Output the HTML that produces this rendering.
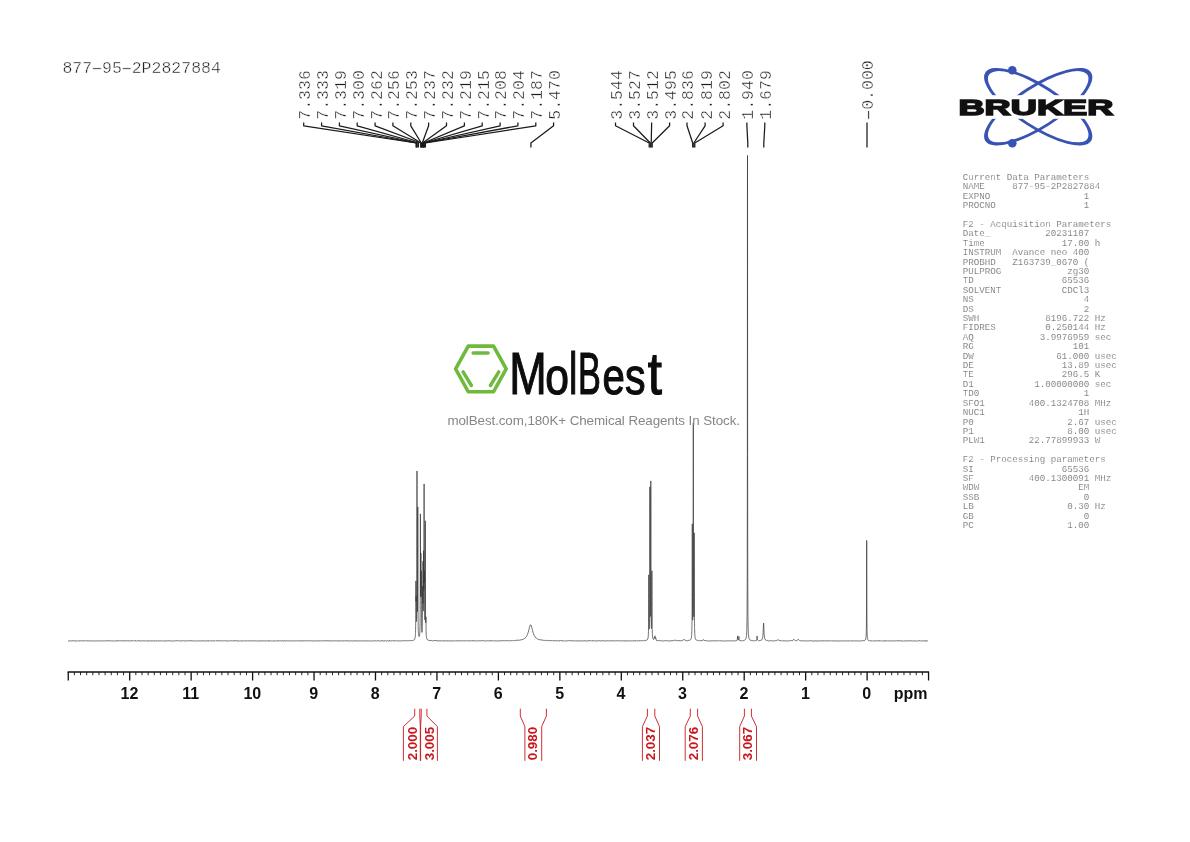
<!DOCTYPE html>
<html lang="en"><head><meta charset="utf-8"><title>877-95-2P2827884 1H NMR</title>
<style>
html,body{margin:0;padding:0;background:#fff}
body{width:1190px;height:842px;overflow:hidden}
svg{display:block}
.mono{font-family:"Liberation Mono",monospace}
.sans{font-family:"Liberation Sans",sans-serif}
.pk{font-family:"Liberation Mono",monospace;font-size:16.5px;fill:#1c1c1c;stroke:#fff;stroke-width:.42px}
.par{font-family:"Liberation Mono",monospace;font-size:9.17px;fill:#555;stroke:#fff;stroke-width:.22px;white-space:pre}
.ax{font-family:"Liberation Sans",sans-serif;font-weight:bold;font-size:16px;fill:#111;text-anchor:middle}
.int{font-family:"Liberation Sans",sans-serif;font-weight:bold;font-size:13.4px;fill:#c8171e}
</style></head><body>
<svg width="1190" height="842" viewBox="0 0 1190 842">
<rect width="1190" height="842" fill="#fff"/>
<text class="pk" x="62.4" y="72.7">877<tspan dx="-4.5" textLength="18.9" lengthAdjust="spacingAndGlyphs">-</tspan><tspan dx="-4.5">95</tspan><tspan dx="-4.5" textLength="18.9" lengthAdjust="spacingAndGlyphs">-</tspan><tspan dx="-4.5">2P2827884</tspan></text>
<g fill="none" stroke="#1a1a1a" stroke-width="1.25" stroke-linejoin="round" stroke-linecap="butt">
<path d="M303.7 122.4V125.8L416.2 143V147.4"/>
<path d="M321.6 122.4V125.8L416.4 143V147.4"/>
<path d="M339.4 122.4V125.8L417.2 143V147.4"/>
<path d="M357.2 122.4V125.8L418.4 143V147.4"/>
<path d="M375.1 122.4V125.8L420.8 143V147.4"/>
<path d="M392.9 122.4V125.8L421.1 143V147.4"/>
<path d="M410.8 122.4V125.8L421.3 143V147.4"/>
<path d="M428.6 122.4V125.8L422.3 143V147.4"/>
<path d="M446.5 122.4V125.8L422.6 143V147.4"/>
<path d="M464.4 122.4V125.8L423.4 143V147.4"/>
<path d="M482.2 122.4V125.8L423.6 143V147.4"/>
<path d="M500.1 122.4V125.8L424.1 143V147.4"/>
<path d="M517.9 122.4V125.8L424.3 143V147.4"/>
<path d="M535.8 122.4V125.8L425.4 143V147.4"/>
<path d="M553.6 122.4V125.8L530.9 143V147.4"/>
<path d="M615.5 122.4V125.8L649.2 143V147.4"/>
<path d="M633.5 122.4V125.8L650.3 143V147.4"/>
<path d="M651.6 122.4V125.8L651.2 143V147.4"/>
<path d="M669.6 122.4V125.8L652.2 143V147.4"/>
<path d="M687.0 122.4V125.8L692.7 143V147.4"/>
<path d="M705.1 122.4V125.8L693.8 143V147.4"/>
<path d="M723.1 122.4V125.8L694.8 143V147.4"/>
<path d="M746.9 122.4V125.8L747.8 143V147.4"/>
<path d="M764.8 122.4V125.8L763.8 143V147.4"/>
<path d="M867.0 122.4V125.8L867.0 143V147.4"/>
</g>
<g class="pk">
<text transform="translate(310.1 119.7) rotate(-90)">7.336</text>
<text transform="translate(327.9 119.7) rotate(-90)">7.333</text>
<text transform="translate(345.8 119.7) rotate(-90)">7.319</text>
<text transform="translate(363.6 119.7) rotate(-90)">7.300</text>
<text transform="translate(381.5 119.7) rotate(-90)">7.262</text>
<text transform="translate(399.3 119.7) rotate(-90)">7.256</text>
<text transform="translate(417.2 119.7) rotate(-90)">7.253</text>
<text transform="translate(435.0 119.7) rotate(-90)">7.237</text>
<text transform="translate(452.9 119.7) rotate(-90)">7.232</text>
<text transform="translate(470.8 119.7) rotate(-90)">7.219</text>
<text transform="translate(488.6 119.7) rotate(-90)">7.215</text>
<text transform="translate(506.4 119.7) rotate(-90)">7.208</text>
<text transform="translate(524.3 119.7) rotate(-90)">7.204</text>
<text transform="translate(542.1 119.7) rotate(-90)">7.187</text>
<text transform="translate(560.0 119.7) rotate(-90)">5.470</text>
<text transform="translate(621.9 119.7) rotate(-90)">3.544</text>
<text transform="translate(639.9 119.7) rotate(-90)">3.527</text>
<text transform="translate(658.0 119.7) rotate(-90)">3.512</text>
<text transform="translate(676.0 119.7) rotate(-90)">3.495</text>
<text transform="translate(693.4 119.7) rotate(-90)">2.836</text>
<text transform="translate(711.5 119.7) rotate(-90)">2.819</text>
<text transform="translate(729.5 119.7) rotate(-90)">2.802</text>
<text transform="translate(753.3 119.7) rotate(-90)">1.940</text>
<text transform="translate(771.2 119.7) rotate(-90)">1.679</text>
<text transform="translate(873.4 119.7) rotate(-90)"><tspan dx="-4.5" textLength="18.9" lengthAdjust="spacingAndGlyphs">-</tspan><tspan dx="-4.5">0.000</tspan></text>
</g>
<path d="M68 640.93 68.75 640.97 69 640.9 69.5 641.04 69.75 640.8 70.25 640.71 70.5 640.89 71 640.96 71.25 641.07 71.5 640.79 71.75 641.02 72 641.03 72.5 640.74 73 641.01 73.25 640.98 73.5 640.83 74 640.98 74.75 640.68 75 641.04 75.5 640.99 75.75 641.17 76 641 76.25 641.01 76.5 640.78 77 641.08 77.25 640.83 77.75 641.09 78 640.96 78.5 641 78.75 640.9 79 641.15 79.5 640.79 80.5 640.74 80.75 641.02 81 640.81 81.25 641.1 81.5 640.97 81.75 641.11 82 640.78 82.25 640.75 82.5 640.92 82.75 640.7 83 640.97 83.5 640.88 83.75 641.02 84.25 640.69 84.5 641.01 84.75 640.8 85 640.92 85.25 640.7 85.5 640.85 86.25 640.87 86.5 641.05 86.75 640.75 87 641.05 87.25 640.87 87.5 640.83 87.75 640.99 88.25 640.77 88.75 641 89 641.22 89.25 641.01 90 641 90.25 640.86 90.5 640.96 91 640.82 91.25 640.99 91.5 640.93 91.75 640.66 92.25 641.04 93 640.76 93.5 640.96 93.75 640.98 94 640.83 94.5 640.96 95 640.94 95.25 640.82 95.5 640.98 96 640.81 96.25 640.85 96.5 640.99 96.75 640.75 97 640.97 97.25 640.85 97.75 641.09 98 640.87 98.75 640.87 99.25 640.98 99.5 640.92 99.75 640.69 100.25 640.96 100.5 640.84 100.75 640.95 101 640.95 101.25 640.8 101.75 641.08 102.25 640.89 102.5 640.89 102.75 640.76 103 640.98 103.25 640.82 103.75 640.92 104 640.81 104.25 640.84 104.5 640.99 104.75 640.78 105 641.03 105.25 640.89 105.75 640.85 106 640.98 106.5 640.91 106.75 640.79 107 640.99 107.25 640.89 107.75 641.04 108 640.6 108.25 640.91 108.5 641.06 108.75 640.74 109 641.02 109.25 640.86 109.5 640.8 109.75 640.97 110.5 640.91 110.75 641.08 111.25 640.91 111.5 640.78 111.75 640.83 112 640.71 112.5 640.96 112.75 640.91 113 641.12 113.25 641 113.5 641.01 113.75 640.87 114 640.83 114.25 640.96 114.5 640.96 114.75 641.07 115 640.91 115.5 640.85 115.75 640.99 116 640.68 116.75 640.96 118.25 640.75 118.5 640.77 118.75 640.91 119 640.86 119.5 640.96 119.75 640.69 120 640.95 120.25 640.68 120.5 640.94 121 640.78 121.25 640.9 121.5 640.86 122 640.95 122.5 640.97 122.75 640.72 123 640.92 123.25 640.71 123.5 641.19 123.75 640.9 124 640.84 124.25 640.93 124.5 640.78 125 640.93 125.25 640.85 125.5 640.59 125.75 640.87 126.25 640.95 126.5 640.88 126.75 641.04 127 640.92 127.25 640.63 127.5 640.78 128 640.78 128.25 640.69 128.5 640.83 128.75 640.67 129.25 640.88 129.5 640.71 129.75 641.16 130 640.96 130.25 640.87 130.5 641 130.75 640.92 131.25 640.97 131.5 640.6 131.75 640.83 132 640.9 132.25 640.75 132.5 640.93 132.75 640.8 133 640.86 133.25 640.72 133.5 641.06 133.75 640.81 134.25 641.03 134.5 640.78 134.75 640.99 135 640.72 135.25 640.84 135.75 640.89 136 640.8 136.25 641.1 136.5 640.89 136.75 640.97 137 640.87 137.25 640.9 137.5 640.83 137.75 640.99 138 640.7 138.25 640.64 138.5 640.92 139 640.87 139.5 640.69 139.75 641.03 140 640.97 140.75 641.08 141 640.86 141.25 641.03 141.5 640.73 141.75 640.8 142 641.01 142.5 640.97 142.75 640.74 143 640.99 143.25 641.06 143.5 640.9 143.75 640.86 144 640.97 144.25 640.72 144.5 640.87 144.75 640.85 145 640.99 145.25 640.9 145.5 640.92 145.75 641.15 146 640.87 146.25 641.1 146.5 640.9 146.75 641.06 147 640.68 147.25 640.86 147.75 640.8 148 641.04 148.25 641.15 148.75 640.8 149 640.89 149.5 640.8 149.75 641.06 150.25 640.68 150.5 640.96 150.75 641.12 151 640.92 151.25 640.95 151.5 640.85 151.75 641 152 640.89 152.25 641.14 152.5 640.8 152.75 640.72 153 640.76 153.25 641.07 153.5 640.86 153.75 641.23 154 640.87 154.5 641.01 154.75 640.86 155 640.88 155.25 640.8 155.5 640.88 155.75 640.87 156 641.11 156.75 640.87 157 640.9 157.25 640.73 157.5 640.99 158 640.87 158.25 640.92 158.5 640.84 158.75 640.96 159 640.74 159.25 640.93 159.5 640.78 159.75 640.9 160 640.73 160.25 641.05 160.5 640.84 160.75 640.95 161.25 640.77 161.5 641.02 162 641.01 162.25 640.87 162.5 641.11 162.75 640.89 163 641.04 163.75 640.86 164 640.97 164.75 640.93 165 641.19 165.25 640.95 166 640.67 166.75 641 167.5 640.76 167.75 641 168.5 640.69 169 640.96 169.75 640.97 170 640.81 170.75 640.77 171 640.95 171.25 640.86 171.5 640.94 172 640.76 172.5 641.1 172.75 640.93 173.25 641.06 173.5 640.99 173.75 640.79 174 640.71 174.25 640.95 174.5 640.79 174.75 640.77 175 641.03 175.25 640.9 175.75 640.88 176 641.07 176.5 640.78 177 640.7 177.25 640.94 177.5 640.69 178 641.05 178.25 640.81 178.5 640.94 178.75 640.84 179 640.91 179.25 640.77 179.75 640.93 180 640.79 180.5 640.94 180.75 640.76 181 640.94 181.5 640.96 181.75 641.06 182 640.96 182.25 640.69 182.5 641 182.75 640.9 183 641.02 183.25 640.97 183.5 640.73 184 640.97 184.25 640.9 184.75 640.98 185.25 641 185.5 640.86 186 640.84 186.5 641.05 186.75 640.91 187 641 187.25 640.8 187.75 640.82 188.25 641.1 188.5 640.79 188.75 640.76 189 641.06 189.5 640.77 189.75 641.02 190 640.7 190.25 640.94 190.5 641.02 190.75 640.75 191.25 640.97 191.5 640.8 191.75 641.11 192 640.7 192.25 640.99 192.5 640.87 192.75 640.94 193.25 640.8 193.5 640.99 193.75 640.81 194.25 640.97 194.5 640.92 194.75 641.01 195 640.99 195.25 640.79 195.5 640.92 195.75 640.77 196.5 641.11 197 640.87 197.5 640.99 197.75 640.79 198 641.09 198.5 640.88 198.75 640.66 199.25 641.01 199.5 640.83 200 640.8 200.25 640.94 200.5 640.99 201.5 640.67 201.75 640.98 203 640.85 203.25 640.87 203.5 640.75 204 641.01 204.25 641.07 204.75 641.01 205 641.11 205.25 640.83 206.25 641.07 206.5 641 206.75 640.7 207 641.14 207.25 640.88 207.5 640.82 208 640.93 208.25 640.81 208.5 641.02 209 640.74 209.25 641.01 209.75 640.88 210.25 640.75 211 641.02 211.25 640.87 211.5 640.85 211.75 641.02 212.5 640.78 212.75 641.01 213 640.84 213.25 641.03 213.75 640.91 214.25 640.53 214.5 640.87 215 640.79 215.25 641.05 215.5 640.81 215.75 641.03 216 640.72 216.5 640.84 216.75 640.99 217 640.71 217.25 640.87 217.75 640.83 218 641.09 218.25 640.85 218.5 640.79 219.25 641 219.5 640.83 220.25 640.96 220.5 640.8 220.75 640.76 221 640.86 221.75 640.72 222 640.87 222.5 640.94 223.25 640.8 223.5 640.95 223.75 640.88 224 641.01 224.25 640.76 224.5 640.94 224.75 640.86 225 640.98 225.5 640.97 225.75 640.71 226.25 640.92 226.5 641 227 640.84 227.25 640.71 227.5 641.06 228 640.92 228.5 641.08 228.75 640.9 229 640.82 229.25 641.07 229.5 640.87 230 640.79 230.25 640.94 230.5 640.64 231 640.99 231.25 640.79 231.5 641.02 231.75 640.8 232 641.04 232.25 640.81 232.5 640.96 232.75 640.77 233.5 640.89 233.75 640.78 234 641.1 234.25 640.85 235 640.81 235.25 640.49 235.5 640.89 235.75 640.81 236 640.88 236.25 640.73 236.5 641.12 236.75 640.71 237.25 641.15 238 640.88 238.25 640.9 238.5 640.81 239 640.9 239.25 641.13 239.5 640.84 239.75 640.79 240.25 641.1 240.5 641.04 240.75 640.71 241 640.96 241.5 640.99 241.75 640.82 242 640.96 242.5 641.06 243 640.79 243.25 640.91 243.5 640.8 244 640.88 244.5 640.89 244.75 640.79 245.25 640.96 245.5 640.88 246.5 640.85 246.75 641.06 247 640.86 247.25 640.75 247.5 641.05 247.75 640.72 248.25 640.92 248.5 641.1 248.75 640.78 249 641 249.5 640.84 249.75 641.01 250.25 641.02 250.75 640.83 251.5 640.94 251.75 640.88 252 640.97 252.25 640.68 252.75 641.11 253 641.02 253.25 640.72 253.5 641.05 254 640.85 254.25 641.02 254.5 640.78 254.75 640.71 255 640.99 255.25 640.77 255.5 641 255.75 641.01 256 640.87 256.5 640.96 256.75 640.81 257 641.06 257.5 641.02 257.75 640.81 258.25 640.82 258.5 641.04 258.75 640.88 259 640.85 259.25 641.08 259.75 640.83 261.25 640.91 261.5 640.99 262 640.94 262.25 640.64 262.5 640.87 263.5 640.93 263.75 640.84 264 640.9 264.25 640.81 264.5 640.97 265 640.8 265.25 641.02 265.5 640.88 266.25 640.95 266.5 641.1 266.75 640.77 267 641 267.25 641.03 267.5 640.83 267.75 641.1 268 640.79 268.75 640.92 269.25 641.11 269.5 640.74 269.75 640.95 270 640.95 270.25 640.72 270.5 640.97 271.25 640.91 271.5 641.01 271.75 640.96 272 640.76 272.25 640.81 272.5 641.22 272.75 641.11 273 640.86 273.5 640.94 273.75 640.78 274 641.09 274.25 640.77 274.5 640.88 275.25 640.8 275.75 640.96 276 640.81 276.5 641.04 276.75 640.75 277.25 640.74 277.5 640.89 277.75 640.86 278.25 641 278.5 640.89 278.75 640.88 279 640.97 279.25 640.7 279.5 641.07 280 640.97 280.25 640.76 280.5 640.93 281.5 641.04 281.75 640.79 282.25 640.79 282.5 640.97 282.75 640.62 283 641 283.25 641.12 283.5 640.93 284 640.81 284.25 641.01 284.75 640.71 285 640.99 285.25 640.98 285.5 641.08 285.75 640.87 286.75 640.74 287 640.88 287.25 640.79 287.5 641 288 640.87 288.25 640.99 288.75 640.75 289.25 640.98 289.5 640.98 289.75 640.75 290 640.98 290.25 640.89 290.75 640.89 291 640.78 291.5 641.05 291.75 640.74 292 640.87 292.25 640.82 292.5 640.9 293.25 640.75 293.5 640.93 294.5 640.83 295 641.15 295.25 640.85 295.75 640.83 296 640.71 296.5 640.94 296.75 640.79 297 640.91 297.25 640.76 297.5 640.87 298.25 640.89 298.5 641.06 298.75 640.89 299 641.15 299.25 640.84 299.75 640.67 300.25 640.98 300.5 641.07 300.75 640.68 301 641.05 301.25 640.8 301.5 641.15 301.75 640.9 302 640.82 303 641 303.25 640.79 303.75 640.91 304 640.87 304.25 641 304.5 640.78 304.75 640.76 305 640.98 305.5 640.78 305.75 640.97 306 640.67 306.25 640.73 306.5 640.93 307 640.71 307.25 641.03 307.5 640.83 308 640.92 308.25 640.82 308.75 641.05 309 641.05 309.5 640.83 310.25 640.9 310.5 640.75 311 640.98 311.25 640.93 311.5 640.76 311.75 640.96 312.25 640.9 312.5 641.01 312.75 640.8 313 641.14 313.25 640.74 313.5 640.94 313.75 641.03 314 640.86 314.25 641.08 314.5 640.84 314.75 640.81 315 640.96 315.25 640.94 315.5 640.79 315.75 640.97 316.25 640.86 316.5 640.72 316.75 640.95 317.25 640.77 317.5 641.18 317.75 640.93 318 641.11 318.25 641.1 318.5 640.68 318.75 640.87 319 640.73 319.25 640.92 319.5 640.84 320 640.96 320.5 640.88 320.75 640.73 321 640.92 321.25 640.85 321.5 640.92 321.75 640.88 322 641.04 322.25 640.78 322.5 640.95 323 640.92 323.25 640.79 324 640.88 324.75 640.84 325.25 640.72 325.5 640.83 325.75 641.04 326 640.7 326.25 640.66 326.5 640.94 326.75 640.94 327 641.12 327.25 640.81 327.5 641.01 327.75 640.69 328 641.17 328.25 640.89 328.5 640.82 329 640.98 329.25 640.87 329.5 640.95 330 640.9 330.5 640.92 330.75 640.81 331 640.94 331.25 640.88 331.5 640.98 331.75 640.79 332 641.04 332.25 640.79 332.5 641.23 332.75 640.99 333 641.07 333.25 640.78 333.75 641.04 334 640.96 334.25 640.75 334.5 640.9 334.75 640.83 335 641.06 335.25 641.06 335.75 640.64 336 640.96 336.25 640.83 336.5 641 336.75 640.76 337 640.95 337.25 640.94 337.5 641.11 338.25 640.75 338.5 641.03 338.75 640.79 339 640.94 339.5 641 339.75 641.08 340 641.03 340.25 640.72 340.5 641.03 341 640.78 341.25 641.13 341.5 640.85 341.75 640.96 342.25 640.8 342.5 640.92 342.75 640.92 343 640.82 343.25 640.83 343.5 640.98 343.75 640.92 344 641.05 344.25 640.76 344.5 641.03 345 640.71 345.75 640.98 346 640.97 346.25 640.8 346.75 640.9 347 640.61 347.25 640.99 348.25 640.86 348.5 640.93 348.75 640.82 349.25 640.93 349.5 641.17 349.75 640.81 350 641 350.5 640.91 350.75 641.03 351.25 640.89 351.5 640.94 351.75 640.87 352 641 352.25 640.93 352.5 641.02 353 640.87 353.5 641.06 354.25 640.78 355 641.03 355.25 640.68 355.5 641.01 355.75 641.03 356 640.92 356.25 641.1 356.5 640.78 356.75 640.88 357 640.85 357.25 641.01 357.75 640.81 358 640.8 358.25 640.59 358.5 640.78 358.75 641.11 359 640.89 359.25 640.94 359.5 640.78 359.75 640.91 360 640.84 360.25 640.93 360.75 640.74 361.25 641.12 361.5 641.01 361.75 640.72 362.25 640.93 362.5 641 362.75 640.78 363.5 640.96 364 640.93 364.5 640.76 364.75 641.11 365.25 640.91 365.5 640.89 365.75 641.07 366.25 640.94 367 640.9 367.25 640.8 368 640.86 368.25 640.97 368.5 640.95 368.75 640.82 369 640.88 369.25 640.81 369.75 640.89 370 640.85 370.25 641.06 370.5 640.91 370.75 640.96 371 640.8 371.25 640.97 371.5 640.87 371.75 640.94 372.25 640.81 372.5 640.92 373.25 640.81 373.5 640.93 374 640.94 374.25 641 374.75 640.85 375 640.98 375.25 640.72 375.5 640.98 375.75 640.81 376 640.85 376.25 641.08 376.5 640.9 376.75 641.07 377.5 640.69 377.75 640.81 378 641.06 378.5 640.73 378.75 640.87 379 640.7 379.25 640.97 379.5 640.95 379.75 641.04 380.25 640.75 380.5 640.99 380.75 640.8 381.25 640.8 381.5 640.92 381.75 640.89 382 640.66 382.25 641.03 382.5 640.81 382.75 640.72 383 640.84 383.25 640.71 383.5 641.22 383.75 640.92 384 641.02 384.75 640.84 385 640.98 385.25 640.79 385.5 641.06 385.75 640.78 386.25 641.08 386.75 641.09 387.5 640.74 387.75 640.8 388 641.04 388.25 641.14 388.5 640.92 388.75 641.05 389 640.91 389.25 640.96 389.5 640.6 389.75 641.08 390.25 640.68 390.5 640.93 390.75 640.97 391 640.7 391.25 641.12 391.75 641.02 392 640.84 392.25 640.8 392.5 640.9 392.75 640.64 393 640.91 393.5 640.92 393.75 640.75 394.25 640.92 394.5 640.69 395 640.76 395.25 641.02 396 640.9 396.5 640.89 396.75 640.8 397 640.98 397.25 640.84 397.75 640.92 398.25 640.78 398.75 640.95 399 640.82 399.5 640.81 399.75 640.88 400 640.74 400.25 640.81 400.5 640.97 401 641 401.25 640.8 401.5 640.92 402 640.85 402.5 640.59 402.75 640.84 403 640.61 403.25 640.77 403.5 640.69 404 640.96 404.25 640.76 404.5 640.67 404.75 640.98 405 640.81 405.5 640.74 405.75 640.92 406 640.86 406.5 640.59 406.75 640.77 407 640.67 407.25 640.75 407.5 640.72 407.75 640.8 408.25 640.81 408.75 640.61 409 640.7 409.25 640.64 409.5 640.77 409.75 640.61 410 641.03 410.5 640.69 410.75 640.84 411 640.55 411.5 640.67 411.75 640.53 412 640.68 412.5 640.48 412.75 640.56 413 640.21 413.25 640.33 413.5 640.05 413.8 640.03 414.1 639.85 414.3 639.74 414.76 639.01 415 638.24 415.16 637.37 415.3 636.25 415.38 635.34 415.44 634.38 415.48 633.54 415.52 632.46 415.56 631.04 415.58 630.18 415.6 629.19 415.62 628.05 415.64 626.71 415.66 625.15 415.68 623.3 415.7 621.12 415.72 618.52 415.74 615.43 415.75 613.68 415.76 611.77 415.78 607.48 415.8 602.57 415.82 597.17 415.84 591.61 415.86 586.52 415.88 582.7 415.9 580.88 415.92 581.38 415.94 583.84 415.96 587.51 415.98 591.52 416 595.23 416.02 598.24 416.04 600.37 416.06 601.56 416.08 601.84 416.1 601.27 416.12 600.03 416.16 596.8 416.18 595.77 416.2 595.82 416.22 597.15 416.24 599.61 416.25 601.13 416.28 606.13 416.3 609.35 416.32 612.2 416.34 614.62 416.36 616.6 416.38 618.18 416.4 619.4 416.42 620.31 416.44 620.95 416.46 621.35 416.48 621.54 416.5 621.53 416.52 621.31 416.54 620.92 416.56 620.33 416.58 619.55 416.6 618.56 416.62 617.33 416.64 615.84 416.66 614.05 416.68 611.92 416.7 609.37 416.72 606.34 416.74 602.73 416.75 600.66 416.76 598.4 416.78 593.21 416.8 586.98 416.82 579.48 416.84 570.47 416.86 559.72 416.88 547.05 416.9 532.49 416.92 516.47 416.94 500.11 416.96 485.37 416.98 474.86 417 470.96 417.02 474.66 417.04 484.96 417.06 499.49 417.08 515.64 417.1 531.43 417.12 545.76 417.14 558.2 417.16 568.7 417.18 577.44 417.2 584.66 417.22 590.59 417.24 595.45 417.25 597.54 417.26 599.42 417.28 602.66 417.3 605.27 417.32 607.35 417.34 608.97 417.36 610.18 417.38 611.02 417.4 611.52 417.42 611.68 417.44 611.5 417.46 610.99 417.48 610.11 417.5 608.84 417.52 607.12 417.54 604.89 417.56 602.06 417.58 598.51 417.6 594.11 417.62 588.68 417.64 582.06 417.66 574.04 417.68 564.51 417.7 553.48 417.72 541.31 417.74 528.85 417.75 522.97 417.76 517.64 417.78 509.73 417.8 506.97 417.82 510.14 417.84 518.47 417.86 530.09 417.88 542.99 417.9 555.62 417.92 567.11 417.94 577.13 417.96 585.65 417.98 592.81 418 598.81 418.02 603.81 418.04 608 418.06 611.53 418.08 614.52 418.1 617.07 418.12 619.24 418.14 621.12 418.16 622.74 418.18 624.15 418.2 625.39 418.22 626.47 418.25 627.87 418.28 629.06 418.32 630.38 418.36 631.45 418.42 632.72 418.48 633.68 418.56 634.64 418.66 635.48 418.76 636.05 418.92 636.47 419.14 636.6 419.32 636.36 419.46 635.88 419.58 635.16 419.68 634.23 419.76 633.17 419.82 632.11 419.88 630.69 419.92 629.46 419.96 627.92 419.98 627.01 420 625.97 420.02 624.78 420.04 623.42 420.06 621.87 420.08 620.07 420.1 617.99 420.12 615.57 420.14 612.73 420.16 609.37 420.18 605.4 420.2 600.66 420.22 595 420.24 588.25 420.25 584.4 420.26 580.22 420.28 570.79 420.3 559.97 420.32 548.09 420.34 535.94 420.36 524.96 420.38 517.02 420.4 513.87 420.42 516.21 420.44 523.33 420.46 533.48 420.48 544.75 420.5 555.7 420.52 565.52 420.54 573.88 420.56 580.72 420.58 586.16 420.6 590.33 420.62 593.38 420.64 595.42 420.66 596.53 420.68 596.75 420.7 596.09 420.72 594.52 420.74 592 420.75 590.35 420.76 588.46 420.78 583.86 420.8 578.24 420.82 571.81 420.84 565.09 420.86 558.96 420.88 554.57 420.9 553.01 420.92 554.7 420.94 559.21 420.96 565.46 420.98 572.29 421 578.8 421.02 584.43 421.04 589.01 421.06 592.46 421.08 594.82 421.1 596.13 421.12 596.43 421.14 595.71 421.16 593.99 421.18 591.28 421.2 587.63 421.22 583.26 421.24 578.58 421.25 576.35 421.26 574.34 421.28 571.49 421.3 570.89 421.32 572.91 421.34 577.21 421.36 582.95 421.38 589.21 421.4 595.3 421.42 600.84 421.44 605.67 421.46 609.79 421.48 613.26 421.5 616.17 421.52 618.62 421.54 620.68 421.56 622.42 421.58 623.89 421.6 625.15 421.62 626.23 421.64 627.15 421.66 627.95 421.7 629.24 421.74 630.21 421.8 631.26 421.86 631.93 421.92 632.31 421.98 632.43 422.04 632.3 422.1 631.89 422.16 631.16 422.2 630.44 422.24 629.47 422.28 628.19 422.3 627.39 422.32 626.45 422.34 625.35 422.36 624.04 422.38 622.49 422.4 620.64 422.42 618.43 422.44 615.8 422.46 612.69 422.48 609.03 422.5 604.83 422.52 600.19 422.54 595.42 422.56 591.03 422.58 587.71 422.6 586.09 422.62 586.41 422.64 588.41 422.66 591.43 422.68 594.74 422.7 597.8 422.72 600.27 422.74 602.01 422.75 602.57 422.76 602.94 422.78 603.07 422.8 602.35 422.82 600.78 422.84 598.3 422.86 594.86 422.88 590.43 422.9 585.05 422.92 578.94 422.94 572.57 422.96 566.78 422.98 562.66 423 561.23 423.02 562.85 423.04 567.16 423.06 573.17 423.08 579.8 423.1 586.22 423.12 591.98 423.14 596.88 423.16 600.91 423.18 604.14 423.2 606.65 423.22 608.53 423.24 609.86 423.25 610.34 423.26 610.71 423.28 611.11 423.3 611.08 423.32 610.63 423.34 609.74 423.36 608.39 423.38 606.52 423.4 604.06 423.42 600.94 423.44 597.04 423.46 592.27 423.48 586.55 423.5 579.9 423.52 572.54 423.54 564.94 423.56 558.01 423.58 552.91 423.6 550.72 423.62 551.88 423.64 555.93 423.66 561.78 423.68 568.24 423.7 574.39 423.72 579.71 423.74 583.97 423.75 585.68 423.76 587.13 423.78 589.23 423.8 590.3 423.82 590.39 423.84 589.5 423.86 587.61 423.88 584.65 423.9 580.52 423.92 575.06 423.94 568.11 423.96 559.47 423.98 549.02 424 536.79 424.02 523.15 424.04 509.12 424.06 496.41 424.08 487.33 424.1 483.95 424.12 487.13 424.14 496.02 424.16 508.51 424.18 522.3 424.2 535.66 424.22 547.59 424.24 557.69 424.25 562.02 424.26 565.89 424.28 572.3 424.3 577.07 424.32 580.35 424.34 582.25 424.36 582.87 424.38 582.29 424.4 580.63 424.42 578.1 424.44 575.13 424.46 572.36 424.48 570.65 424.5 570.76 424.52 573.04 424.54 577.2 424.56 582.52 424.58 588.22 424.6 593.71 424.62 598.67 424.64 602.96 424.66 606.59 424.68 609.61 424.7 612.09 424.72 614.13 424.74 615.78 424.76 617.09 424.78 618.12 424.8 618.9 424.82 619.45 424.84 619.8 424.86 619.95 424.88 619.9 424.9 619.66 424.92 619.22 424.94 618.55 424.96 617.65 424.98 616.49 425 615.01 425.02 613.12 425.04 610.81 425.06 607.99 425.08 604.56 425.1 600.38 425.12 595.31 425.14 589.17 425.16 581.8 425.18 573.09 425.2 563.04 425.22 551.98 425.24 540.67 425.25 535.33 425.26 530.51 425.28 523.34 425.3 520.78 425.32 523.54 425.34 530.93 425.36 541.27 425.38 552.74 425.4 563.97 425.42 574.17 425.44 583.05 425.46 590.58 425.48 596.88 425.5 602.12 425.52 606.44 425.54 610.02 425.56 612.98 425.58 615.42 425.6 617.43 425.62 619.06 425.64 620.36 425.66 621.37 425.68 622.1 425.7 622.58 425.72 622.79 425.74 622.73 425.76 622.39 425.78 621.76 425.8 620.87 425.84 618.57 425.86 617.51 425.88 616.83 425.9 616.8 425.92 617.53 425.94 618.91 425.96 620.7 426 624.51 426.02 626.25 426.04 627.79 426.06 629.11 426.08 630.24 426.1 631.21 426.12 632.03 426.16 633.35 426.2 634.35 426.26 635.45 426.34 636.42 426.44 637.22 426.58 637.93 427 639.18 427.28 639.63 427.5 639.66 427.8 639.93 428.25 640.11 428.5 640.33 428.9 640.37 430 640.5 430.25 640.69 430.5 640.51 430.75 640.76 431 640.37 431.25 640.72 431.75 640.52 432.25 640.83 432.5 640.85 432.75 640.68 433.25 640.63 433.75 640.79 434.25 640.59 434.5 640.85 434.75 640.37 435 640.81 435.25 640.63 435.5 640.57 436 640.75 436.5 640.64 436.75 641.08 437 640.75 437.5 640.88 438.25 640.76 438.5 640.88 438.75 640.69 439 641.05 439.25 640.93 439.5 640.96 439.75 640.81 440 640.88 440.25 640.77 440.5 640.92 440.75 640.69 441.5 641.02 442 641.01 442.25 640.7 442.5 640.76 442.75 640.98 443 640.64 443.5 641.09 443.75 640.73 444 640.7 444.5 640.95 444.75 640.71 445 640.9 445.75 640.82 446.25 640.97 446.5 640.77 446.75 641.1 447 640.82 447.5 640.8 447.75 640.9 448.25 640.77 448.5 640.97 449 640.82 449.25 641 449.5 640.96 449.75 640.68 450 640.74 450.25 640.94 450.5 640.78 450.75 640.81 451 640.71 451.25 640.73 451.5 641.13 452 640.71 452.25 640.68 452.5 640.93 452.75 641 453 640.83 453.25 640.93 453.5 640.86 453.75 640.99 454 640.78 454.5 640.81 454.75 640.98 455 641.05 455.25 641 455.5 640.81 455.75 641.06 456 640.79 456.25 640.67 456.5 640.93 457 640.76 457.25 640.76 457.5 640.93 458 640.85 458.25 640.89 458.5 640.8 458.75 640.83 459 640.72 459.25 641.05 459.5 640.73 460 640.88 460.5 640.76 461 640.89 461.25 640.83 461.75 641.01 462.25 640.95 462.75 640.78 463 640.84 463.25 640.7 463.5 640.87 464.25 640.96 464.5 640.9 464.75 640.71 465 641.02 465.25 640.8 465.5 640.86 465.75 640.77 466 640.91 466.25 640.78 466.5 640.92 466.75 640.79 467 641.07 467.25 640.81 467.5 640.78 467.75 641.03 468 640.76 468.25 640.98 468.5 640.75 468.75 640.86 469 640.78 469.25 640.82 469.5 640.99 469.75 640.69 470 640.72 470.25 640.97 470.5 640.79 470.75 640.8 471.25 640.97 471.5 640.71 471.75 640.9 472.25 640.64 472.75 640.95 473 640.74 473.25 641 473.5 640.95 473.75 640.53 474 640.94 474.25 640.81 474.5 640.97 475 640.83 475.25 641.14 475.75 640.78 476.25 640.81 476.5 640.95 476.75 640.8 477.25 640.93 477.5 640.85 477.75 640.6 478 640.95 478.25 640.73 478.5 640.82 478.75 641.01 479.25 640.86 479.5 640.9 479.75 640.82 480 640.95 480.25 640.96 480.5 640.73 481 640.94 481.25 640.84 481.5 640.64 481.75 640.91 482 641.01 482.25 640.74 482.5 640.62 482.75 640.7 483 640.99 483.25 641.07 483.5 640.7 483.75 640.86 484 640.78 484.25 640.86 484.5 640.65 484.75 640.83 485.25 640.82 485.5 640.97 485.75 640.82 486 640.85 486.25 641.07 486.5 640.96 487 641.01 487.25 640.8 487.5 640.71 487.75 640.8 488 641 488.25 641.03 488.5 640.75 488.75 640.87 489 640.84 489.5 641.05 489.75 640.59 490 640.9 490.25 640.85 490.5 640.95 490.75 640.66 491 640.87 491.75 640.83 492 640.67 492.25 641.02 492.5 640.75 492.75 640.89 493.25 640.89 493.5 640.77 493.75 640.96 494.25 640.76 494.5 640.88 495 640.77 495.5 640.85 495.75 640.81 496 640.91 496.25 640.71 496.5 640.93 496.75 640.98 497 640.76 497.25 640.95 498 640.72 498.25 640.85 498.75 640.84 499 640.75 499.25 640.85 499.75 640.64 500 640.81 501.25 640.9 502 640.72 502.25 640.82 502.5 640.73 502.75 640.91 503 640.54 503.25 640.49 503.5 640.77 503.75 640.7 504 640.74 504.25 640.66 504.75 640.91 505 640.65 505.25 640.86 505.5 640.7 505.75 640.83 506 640.81 506.25 640.62 506.5 640.54 506.75 640.73 507 640.76 507.25 640.68 507.75 640.89 508 640.7 508.25 640.94 508.5 640.64 508.75 640.74 509 640.65 509.25 640.83 510 640.5 510.5 640.6 510.75 640.76 511 640.57 511.5 640.65 511.75 640.46 512 640.68 512.25 640.4 512.5 640.65 513 640.57 513.25 640.7 513.75 640.52 514 640.71 514.25 640.6 514.5 640.65 515 640.35 515.25 640.51 515.75 640.4 516 640.54 516.25 640.37 517 640.53 517.5 640.19 517.75 640.14 518 640.28 518.5 640.25 519 640.34 519.25 639.92 519.5 640.18 520 639.83 520.25 640 520.75 639.83 521 639.85 521.25 639.73 521.5 639.73 521.75 639.51 522 639.51 522.25 639.62 523.25 639.2 523.5 638.91 523.75 638.96 524.25 638.59 524.5 638.66 524.75 638.21 525.25 637.69 525.5 637.71 526 637 526.5 636.47 526.75 635.79 527 635.45 527.25 634.85 527.5 634.41 527.75 633.53 528 632.94 528.25 632.17 528.75 630.16 529 629.4 529.25 628.19 529.5 627.15 529.75 626.42 530 625.86 530.25 625.12 530.5 624.81 530.75 625.06 531 625.09 531.75 627.4 532 628.47 532.25 629.36 532.5 630.47 533 632.26 533.5 633.7 534 635.03 534.25 635.41 534.5 635.98 534.75 636.26 535.5 637.46 536 637.73 536.25 638.08 536.5 638.19 536.75 638.48 537.25 638.85 537.5 639.12 537.75 638.99 538.25 639.25 538.5 639.25 538.75 639.53 539 639.31 539.25 639.73 539.5 639.61 539.75 639.83 540.25 639.69 540.5 640.03 540.75 639.89 542.25 640.1 542.75 640.12 543.25 640.38 543.5 640.19 543.75 640.33 544 640.14 544.25 640.4 544.5 640.49 544.75 640.25 545 640.48 545.25 640.57 545.5 640.3 545.75 640.6 546 640.31 546.25 640.57 546.5 640.44 546.75 640.47 547 640.71 547.25 640.52 547.5 640.57 548.25 640.39 548.5 640.59 548.75 640.59 549 640.35 549.25 640.51 549.5 640.52 549.75 640.78 550.75 640.58 551 640.34 551.25 640.79 551.75 640.59 552 640.64 552.25 640.55 552.75 640.78 553 640.46 553.5 640.83 554 640.71 554.25 640.87 554.5 640.63 555.25 640.8 555.5 640.55 555.75 640.74 556.25 640.96 557 640.58 557.25 640.88 557.5 640.98 557.75 640.75 558 640.76 558.25 640.67 558.5 640.84 558.75 640.75 559 640.97 560.25 640.65 560.5 640.94 560.75 640.6 561 640.87 561.25 640.83 561.5 640.67 561.75 641.06 562.75 640.68 563 640.68 563.25 640.9 563.5 640.72 563.75 640.85 564 640.64 564.25 640.84 564.5 640.69 564.75 640.92 565 640.72 565.25 640.96 565.5 640.8 565.75 640.99 566 640.83 566.5 640.92 567 640.73 567.5 640.79 568.25 640.71 568.5 640.78 568.75 640.61 569 640.88 569.25 640.74 569.5 640.95 569.75 640.57 570 640.86 570.5 640.68 570.75 640.85 571.25 641.04 571.75 640.61 572 640.82 572.25 640.65 573 641 573.5 640.77 573.75 640.87 574.25 640.78 574.75 641.01 575.25 640.78 575.5 640.94 576 640.96 576.75 640.86 577 640.99 577.25 640.85 578 641.06 579 640.81 579.5 640.83 579.75 640.98 580 640.77 580.5 640.79 580.75 640.92 581.25 640.91 581.5 641.01 581.75 640.9 582 641.03 582.25 641.06 582.5 640.8 583 640.77 583.25 640.91 583.75 640.81 584.25 641.09 584.5 640.62 584.75 640.73 585 640.73 585.5 640.95 586 640.83 586.25 641.02 587 640.7 587.75 641.01 588 640.64 588.25 640.85 588.5 640.78 589 641.01 589.25 640.63 589.5 640.79 589.75 640.73 590 640.95 590.5 640.72 590.75 640.91 591.5 641.02 591.75 640.78 592.25 641.07 592.5 640.7 593 640.74 593.25 641.07 593.75 640.73 594 640.98 594.5 640.9 594.75 641.09 595 640.85 595.25 640.76 595.5 640.8 595.75 640.71 596 640.86 597 640.99 597.5 640.88 597.75 640.93 598.5 640.8 599 641.1 599.25 640.98 599.5 640.66 600 640.92 600.75 640.92 601.5 640.74 601.75 640.91 602.5 640.87 602.75 640.76 603 640.96 603.25 640.63 603.5 640.81 603.75 640.75 604 640.97 604.75 640.87 605 641.1 605.25 640.82 605.5 641.06 605.75 640.83 606 640.76 606.25 640.88 607.25 640.84 608 640.71 608.5 640.93 609 641.01 609.25 640.91 609.5 640.93 609.75 640.67 610 640.81 610.25 640.67 610.5 641.08 610.75 640.83 611 640.75 611.5 640.92 612.75 640.76 613.5 640.86 613.75 640.81 614 640.94 614.25 640.8 614.5 640.9 614.75 640.77 615 640.93 615.5 640.88 615.75 640.97 616 640.75 616.5 640.86 616.75 640.73 617 640.9 617.5 640.74 617.75 640.59 618 640.85 618.25 640.68 618.75 640.95 619.25 640.73 619.5 640.84 619.75 640.81 620.25 641.11 620.5 640.84 620.75 641.02 621 640.87 621.25 640.94 621.75 640.78 622 641.06 622.25 640.89 622.5 640.89 622.75 640.73 623.25 640.96 623.5 640.94 623.75 640.68 624 640.97 624.5 640.84 624.75 641 625 640.96 625.25 641.09 625.75 640.8 626 640.85 626.25 641.08 626.5 640.71 626.75 641.02 627 640.98 627.25 640.7 627.75 640.88 628 640.71 628.25 640.88 628.5 640.83 628.75 640.93 629.25 640.88 629.5 640.75 629.75 640.94 630 640.89 630.25 641.1 630.5 641.05 630.75 640.79 631 640.91 631.5 640.8 631.75 640.9 632.25 640.89 632.5 641.08 632.75 640.8 633 640.7 633.5 640.85 634 640.82 634.25 640.69 634.5 640.73 634.75 640.9 636 640.87 636.25 641.12 636.5 640.81 637 640.98 637.25 640.87 637.5 640.93 637.75 640.71 638 640.96 638.5 640.8 639 640.97 639.25 640.79 640 640.98 640.25 640.75 640.5 640.65 640.75 640.87 641.25 640.68 641.5 640.69 641.75 640.85 642 640.72 642.25 640.7 642.5 640.49 642.75 640.73 643 640.63 643.5 640.65 643.75 640.81 644.25 640.51 644.5 640.69 644.8 640.62 645 640.68 645.5 640.49 645.8 640.42 646.2 640.42 646.6 640.26 647 640 647.25 639.57 647.52 639.54 647.94 638.44 648.06 637.87 648.16 637.14 648.25 636.17 648.32 635.04 648.36 634.19 648.4 633.13 648.44 631.77 648.46 630.94 648.48 630 648.5 628.9 648.52 627.64 648.54 626.17 648.56 624.43 648.58 622.37 648.6 619.9 648.62 616.96 648.64 613.44 648.66 609.26 648.68 604.34 648.7 598.7 648.72 592.51 648.74 586.19 648.75 583.2 648.76 580.48 648.78 576.4 648.8 574.85 648.82 576.22 648.84 580.12 648.86 585.65 648.88 591.8 648.9 597.81 648.92 603.27 648.94 608 648.96 611.99 648.98 615.32 649 618.06 649.02 620.33 649.04 622.19 649.06 623.73 649.08 624.98 649.1 626.01 649.12 626.85 649.14 627.52 649.16 628.05 649.18 628.47 649.22 628.99 649.25 629.14 649.28 629.05 649.32 628.66 649.36 627.96 649.4 626.94 649.42 626.29 649.44 625.52 649.46 624.64 649.48 623.62 649.5 622.45 649.52 621.13 649.54 619.6 649.56 617.82 649.58 615.74 649.6 613.31 649.62 610.45 649.64 607.06 649.66 603.04 649.68 598.25 649.7 592.52 649.72 585.64 649.74 577.4 649.75 572.7 649.76 567.59 649.78 556.05 649.8 542.8 649.82 528.23 649.84 513.35 649.86 499.95 649.88 490.4 649.9 486.86 649.92 490.22 649.94 499.59 649.96 512.81 649.98 527.5 650 541.88 650.02 554.92 650.04 566.23 650.06 575.79 650.08 583.76 650.1 590.36 650.12 595.79 650.14 600.26 650.16 603.94 650.18 606.96 650.2 609.42 650.22 611.42 650.24 613.03 650.26 614.29 650.28 615.24 650.3 615.92 650.32 616.35 650.34 616.54 650.36 616.49 650.38 616.22 650.4 615.7 650.42 614.92 650.44 613.87 650.46 612.5 650.48 610.79 650.5 608.67 650.52 606.06 650.54 602.89 650.56 599.03 650.58 594.35 650.6 588.66 650.62 581.78 650.64 573.46 650.66 563.48 650.68 551.69 650.7 538.1 650.72 523.14 650.74 507.85 650.75 500.64 650.76 494.11 650.78 484.38 650.8 480.9 650.82 484.61 650.84 494.57 650.86 508.54 650.88 524.05 650.9 539.23 650.92 553.05 650.94 565.08 650.96 575.31 650.98 583.89 651 591.05 651.02 597 651.04 601.97 651.06 606.14 651.08 609.65 651.1 612.62 651.12 615.14 651.14 617.28 651.16 619.12 651.18 620.7 651.2 622.06 651.22 623.23 651.25 624.69 651.28 625.87 651.3 626.52 651.34 627.51 651.38 628.16 651.42 628.5 651.46 628.51 651.5 628.18 651.52 627.83 651.54 627.37 651.56 626.79 651.58 626.05 651.6 625.15 651.62 624.04 651.64 622.68 651.66 621.04 651.68 619.04 651.7 616.61 651.72 613.66 651.74 610.1 651.75 608.06 651.76 605.85 651.78 600.85 651.8 595.07 651.82 588.71 651.84 582.2 651.86 576.35 651.88 572.23 651.9 570.8 651.92 572.46 651.94 576.82 651.96 582.9 651.98 589.64 652 596.24 652.02 602.23 652.04 607.46 652.06 611.91 652.08 615.65 652.1 618.77 652.12 621.39 652.14 623.59 652.16 625.44 652.18 627.01 652.2 628.35 652.22 629.5 652.25 630.94 652.28 632.07 652.32 633.26 652.36 634.2 652.42 635.24 652.5 636.21 652.6 637.17 652.74 638.07 652.92 638.73 653.18 639.24 653.6 639.51 653.8 639.49 654 639.11 654.14 638.57 654.36 637.12 654.42 637 654.52 637.32 654.62 637.63 654.7 637.6 654.78 637.26 654.94 636.04 655 635.88 655.06 636.1 655.25 637.77 655.34 638.33 655.44 638.64 655.54 638.64 655.68 638.19 655.78 637.92 655.84 638.01 656.08 639.34 656.34 640.13 656.52 640.51 656.78 640.51 657.06 640.76 658.3 640.66 658.5 640.57 659.25 640.78 659.5 640.55 659.75 640.63 660 640.84 660.25 640.84 660.5 640.7 660.75 640.68 661 640.83 661.25 640.68 661.5 640.93 662 640.7 662.25 640.87 662.75 640.82 663 640.85 663.25 641.02 663.5 640.86 664.5 640.73 664.75 640.87 665 640.85 665.25 640.65 666 640.85 666.25 640.72 666.5 640.72 666.75 640.84 667 640.78 667.5 640.83 667.75 640.63 668 640.97 668.25 640.75 668.5 640.94 668.75 640.9 669 640.74 669.25 640.96 670 640.88 670.5 640.69 670.75 640.88 671 640.71 671.25 640.93 671.5 640.56 671.75 640.83 672.5 640.74 672.75 640.75 673 640.88 673.25 640.58 674 640.6 674.5 640.13 674.75 640.33 675.25 640.14 675.5 640.34 676 640.48 677 640.6 677.5 641 677.75 640.72 678.25 640.72 678.5 640.85 678.75 640.58 679 640.96 679.25 640.7 680.1 640.67 680.8 640.78 681.1 640.69 681.5 640.65 681.8 640.85 682 640.86 682.4 640.6 682.58 640.61 682.8 640.68 683.32 640.21 683.96 639.31 684.14 639.43 684.58 639.99 684.84 640.23 685.02 640.42 685.26 640.27 685.5 640.6 685.8 640.63 686 640.82 686.3 640.65 686.8 640.69 687 640.6 687.3 640.71 687.5 640.59 687.75 640.81 688.25 640.4 688.5 640.5 688.8 640.43 689.1 640.52 689.25 640.51 689.5 640.14 690.3 639.85 690.5 639.57 690.75 639.42 691.14 638.44 691.38 637.48 691.5 636.71 691.6 635.6 691.68 634.39 691.74 633.19 691.8 631.7 691.84 630.42 691.88 628.82 691.9 627.86 691.92 626.76 691.94 625.52 691.96 624.09 691.98 622.44 692 620.53 692.02 618.27 692.04 615.63 692.06 612.52 692.08 608.82 692.1 604.41 692.12 599.14 692.14 592.85 692.16 585.36 692.18 576.56 692.2 566.47 692.22 555.38 692.24 544.06 692.25 538.72 692.26 533.87 692.28 526.6 692.3 523.86 692.32 526.34 692.34 533.35 692.36 543.26 692.38 554.29 692.4 565.07 692.42 574.86 692.44 583.34 692.46 590.51 692.48 596.47 692.5 601.39 692.52 605.41 692.54 608.7 692.56 611.39 692.58 613.58 692.6 615.36 692.62 616.78 692.64 617.91 692.66 618.78 692.68 619.42 692.7 619.85 692.72 620.11 692.75 620.16 692.78 619.83 692.8 619.4 692.82 618.8 692.84 618.02 692.86 617.05 692.88 615.86 692.9 614.42 692.92 612.72 692.94 610.69 692.96 608.3 692.98 605.47 693 602.13 693.02 598.16 693.04 593.44 693.06 587.82 693.08 581.08 693.1 573 693.12 563.27 693.14 551.6 693.16 537.67 693.18 521.25 693.2 502.38 693.22 481.63 693.24 460.44 693.25 450.43 693.26 441.36 693.28 427.8 693.3 422.83 693.32 427.75 693.34 441.27 693.36 460.29 693.38 481.43 693.4 502.13 693.42 520.94 693.44 537.31 693.46 551.18 693.48 562.79 693.5 572.44 693.52 580.47 693.54 587.14 693.56 592.7 693.58 597.33 693.6 601.21 693.62 604.46 693.64 607.18 693.66 609.45 693.68 611.33 693.7 612.88 693.72 614.13 693.74 615.11 693.76 615.84 693.78 616.34 693.8 616.61 693.82 616.64 693.84 616.44 693.86 615.99 693.88 615.26 693.9 614.23 693.92 612.86 693.94 611.07 693.96 608.82 693.98 605.99 694 602.48 694.02 598.15 694.04 592.85 694.06 586.45 694.08 578.83 694.1 570.01 694.12 560.27 694.14 550.3 694.16 541.35 694.18 535.03 694.2 532.85 694.22 535.42 694.24 542.13 694.25 546.59 694.26 551.49 694.28 561.87 694.3 572.04 694.32 581.3 694.34 589.37 694.36 596.24 694.38 602.03 694.4 606.87 694.42 610.93 694.44 614.33 694.46 617.21 694.48 619.65 694.5 621.73 694.52 623.5 694.54 625.04 694.56 626.37 694.58 627.53 694.6 628.56 694.62 629.46 694.66 630.97 694.7 632.18 694.76 633.59 694.82 634.65 694.9 635.72 695 636.67 695.14 637.66 695.28 638.33 695.75 639.55 696.1 639.82 696.3 639.91 696.5 640.15 696.9 640.23 697.3 640.37 697.5 640.27 698.1 640.59 698.5 640.57 698.75 640.77 699 640.5 699.5 640.84 699.75 640.77 700 640.52 700.25 640.65 700.5 640.45 700.75 640.67 701 640.62 701.25 640.45 701.5 640.41 701.75 640.71 702 640.47 702.25 640.61 702.5 640.45 702.75 640.43 703 639.97 703.5 639.78 703.75 639.61 704.5 640.62 704.75 640.5 705 640.86 705.5 640.63 706 640.73 706.25 640.68 706.75 640.87 707.25 640.62 707.5 640.82 708 640.76 708.25 640.98 708.75 641 709 640.8 709.5 640.98 709.75 640.98 710 640.77 710.75 640.85 711 640.8 711.75 640.9 712.25 640.94 712.75 640.68 713 640.96 713.25 640.98 713.5 640.79 713.75 640.79 714 640.94 714.5 640.93 714.75 640.83 715 640.54 715.25 640.95 715.5 640.84 715.75 640.93 716.5 640.84 716.75 640.98 717 640.98 717.25 640.77 717.75 640.86 718 640.81 718.25 640.96 718.5 640.75 718.75 640.97 719.25 640.99 719.5 640.89 719.75 640.6 720 640.88 720.25 640.85 720.5 640.72 721 641.03 721.5 640.92 721.75 641.06 722 640.91 722.25 640.87 722.5 640.66 723.25 640.94 723.75 641.08 724 640.9 724.25 641.13 724.75 640.71 725 640.93 725.25 640.84 725.75 641.09 726 640.86 726.25 640.91 726.5 640.83 727 640.82 727.25 640.93 727.75 640.77 728 640.94 728.25 640.92 728.5 640.77 729.25 641.04 729.75 640.71 730 640.92 730.25 640.89 730.5 640.97 731.25 640.84 731.75 640.99 732 640.64 732.5 640.95 733.25 640.74 733.8 640.86 734 640.79 734.3 640.98 734.6 640.84 734.75 640.69 735.7 640.9 736.14 640.73 736.36 640.62 736.52 640.49 736.78 640.62 737.12 640.09 737.26 639.58 737.34 639.04 737.42 638.17 737.54 636.37 737.58 635.97 737.62 635.91 737.66 636.21 737.82 638.33 737.9 639.02 738.02 639.59 738.18 639.96 738.38 640.05 738.5 639.89 738.6 639.39 738.68 638.74 738.78 637.49 738.84 636.72 738.88 636.41 738.92 636.41 738.96 636.72 739.1 638.58 739.18 639.32 739.28 639.89 739.44 640.38 739.52 640.49 739.76 640.36 740.02 640.75 740.28 640.57 740.5 640.76 740.9 640.65 741 640.59 741.25 640.82 741.9 640.61 742.3 640.57 742.75 640.75 743 640.46 743.25 640.6 743.5 640.48 743.75 640.66 744.25 640.27 744.5 640.27 745.3 639.55 745.5 639.48 745.8 639.04 746.02 638.46 746.22 637.39 746.38 636.35 746.5 635.26 746.58 634.14 746.66 632.73 746.72 631.39 746.78 629.79 746.82 628.53 746.86 627.03 746.9 625.21 746.92 624.17 746.94 623.01 746.96 621.72 746.98 620.29 747 618.7 747.02 616.86 747.04 614.8 747.06 612.47 747.08 609.84 747.1 606.84 747.12 603.41 747.14 599.46 747.16 594.89 747.18 589.56 747.2 583.3 747.22 575.9 747.24 567.08 747.25 562.03 747.26 556.49 747.28 543.69 747.3 528.04 747.32 508.79 747.34 484.99 747.36 455.51 747.38 419.16 747.4 375.03 747.42 323.32 747.44 266.7 747.46 212.09 747.48 170.93 747.5 155.41 747.52 170.96 747.54 212.13 747.56 266.77 747.58 323.41 747.6 375.15 747.62 419.3 747.64 455.67 747.66 485.18 747.68 509 747.7 528.27 747.72 543.94 747.74 556.77 747.75 562.31 747.76 567.34 747.78 576.12 747.8 583.48 747.82 589.7 747.84 594.98 747.86 599.51 747.88 603.42 747.9 606.8 747.92 609.76 747.94 612.35 747.96 614.63 747.98 616.65 748 618.44 748.02 620.06 748.04 621.51 748.06 622.81 748.08 623.99 748.12 626.02 748.16 627.71 748.2 629.13 748.26 630.86 748.32 632.24 748.4 633.68 748.48 634.78 748.58 635.86 748.72 636.96 748.88 637.78 749.1 638.54 749.5 639.45 749.9 639.94 750 640.08 750.25 640.02 750.5 640.37 750.8 640.38 751 640.52 751.25 640.36 751.75 640.66 752 640.55 752.25 640.63 752.5 640.56 753.3 640.74 753.5 640.87 753.8 640.65 754 640.63 754.25 640.82 754.75 640.59 755.5 640.59 755.78 640.66 756.02 640.38 756.32 640.47 756.52 640.29 756.68 639.76 756.82 639.03 756.9 638.31 757 636.95 757.06 636.13 757.1 635.92 757.14 636.07 757.2 636.82 757.3 638.27 757.38 639.11 757.48 639.76 757.6 640.07 758.22 640.6 758.8 640.57 759.1 640.61 759.5 640.62 760 640.66 760.5 640.41 761.5 640.1 761.75 639.66 762 639.62 762.48 638.37 762.66 637.53 762.78 636.7 762.9 635.48 763.02 633.9 763.12 632.31 763.2 630.73 763.3 628.4 763.42 625.44 763.48 624.19 763.54 623.3 763.58 623 763.62 622.97 763.66 623.23 763.7 623.73 763.76 624.87 763.86 627.39 763.98 630.41 764.06 632.06 764.14 633.4 764.24 634.72 764.36 636.12 764.5 637.35 764.68 638.22 764.98 639.18 765.25 639.68 766.1 640.22 766.5 640.5 766.8 640.47 767 640.59 767.25 640.42 767.5 640.77 767.75 640.6 768 640.81 768.75 640.87 769 640.68 769.5 640.87 770.25 640.83 770.5 640.69 771 640.8 771.5 640.73 771.75 640.9 772 640.77 772.25 640.93 772.5 640.92 772.75 640.74 773.5 640.91 774 640.56 774.25 640.73 774.75 640.78 775 640.63 775.25 640.79 775.5 640.41 775.75 640.67 776 640.66 776.25 640.49 776.5 640.68 777 640.46 777.25 640.27 777.5 639.9 777.75 640.05 778 639.63 778.25 639.85 778.5 639.92 779 640.54 779.25 640.62 779.5 640.43 779.75 640.66 780.25 640.67 780.5 640.57 781.25 640.77 781.5 640.68 781.75 640.91 782 640.88 782.25 640.95 782.5 640.92 782.75 640.98 783 640.73 783.25 640.86 783.5 640.64 783.75 640.87 784 640.81 784.25 640.89 784.5 640.76 785 640.88 785.25 640.81 785.5 640.92 786 640.95 786.25 640.75 786.5 640.94 786.75 640.96 787 640.74 787.5 640.99 788 640.91 788.25 640.96 788.5 640.85 788.75 640.97 789 640.96 789.25 640.75 789.5 640.65 789.75 640.68 790 640.86 790.25 640.75 790.5 640.82 790.75 640.59 791 640.73 791.25 640.69 791.5 640.51 792.25 640.68 792.5 640.51 792.75 640.49 793 639.95 793.25 639.87 793.5 639.44 793.75 639.29 794.25 639.67 794.75 640.23 795.25 640.44 795.5 640.63 795.75 640.58 796.25 640.65 796.5 640.53 796.75 640.73 797.25 640.32 797.5 639.94 798 639.59 798.25 639.15 798.5 639.39 798.75 639.79 799 640.05 799.25 640.11 799.75 640.62 800 640.73 800.25 640.61 800.5 640.83 801 640.69 801.25 640.89 801.75 640.79 802 640.85 802.25 640.69 802.5 640.83 803 640.77 803.25 640.91 803.75 640.72 804 640.88 804.5 640.89 804.75 640.72 805 640.87 805.5 641 805.75 640.88 806 641.02 806.25 640.78 806.5 640.96 806.75 641.01 807 640.77 807.5 640.83 807.75 640.98 808 640.8 808.5 640.87 809 640.77 809.25 640.89 809.5 640.72 810 640.89 810.25 640.82 810.5 640.86 810.75 640.72 811.25 640.9 811.75 640.8 812 641.05 813 640.82 813.75 641.12 814 640.91 814.25 640.94 814.75 640.79 815 640.99 815.25 640.75 815.5 640.94 816 640.88 816.25 641.1 816.5 640.64 816.75 640.93 817 640.78 817.5 641.07 818 641.02 818.5 641.17 818.75 640.82 819 640.97 819.5 640.77 819.75 640.96 820.25 640.79 820.75 640.88 821 641 821.25 641 821.5 640.82 821.75 640.93 822 640.8 823 640.87 823.25 640.77 823.5 641.12 824.25 640.72 824.5 641.08 825.25 640.76 825.75 641.11 826 640.86 827 640.83 827.25 640.98 827.5 640.84 827.75 640.81 828.25 640.99 828.5 640.96 828.75 640.82 829 640.97 829.25 640.76 829.75 640.92 830 640.81 830.25 640.9 830.5 640.67 830.75 640.74 831 640.97 831.25 640.94 831.5 641.11 831.75 640.81 832.25 640.88 832.5 641.05 832.75 640.73 833 640.76 833.25 640.95 833.75 640.95 834 640.81 834.75 640.93 835 641.05 835.25 640.97 835.5 641.09 835.75 640.8 836 640.91 836.75 641.01 837 641.12 837.5 640.96 837.75 640.95 838 640.81 838.25 640.81 838.5 641.01 838.75 641 839 640.8 839.25 641.14 839.75 640.82 840.25 640.95 840.5 640.83 840.75 640.97 841 640.99 841.25 640.88 841.5 640.92 842.25 640.76 842.5 641.16 842.75 640.87 843.25 640.81 843.5 640.94 844 640.86 844.5 641.08 844.75 640.82 845 640.83 845.25 641.03 845.5 640.78 845.75 640.99 846 640.86 846.25 641.04 846.5 640.9 846.75 640.98 847.5 640.83 847.75 641 848 640.74 848.25 640.99 848.5 641.07 849 640.7 849.25 640.95 849.5 641.05 850.25 640.84 850.75 640.79 851 640.68 851.25 640.89 852 640.85 852.25 640.76 852.75 641 853 640.8 853.25 640.73 853.5 640.87 853.75 640.69 854 640.78 854.25 641.05 854.5 640.94 854.75 641.01 855 640.95 855.25 640.98 855.75 640.82 856 641.1 856.25 640.8 856.5 640.9 856.75 640.78 857.25 641.13 857.5 640.9 858 640.84 858.5 640.99 859.25 640.98 860 640.78 860.5 640.87 860.75 640.79 861.25 640.95 861.5 640.74 861.75 640.84 862 640.83 862.25 640.69 862.75 640.72 863 640.57 863.8 640.73 864.1 640.89 864.3 640.84 864.5 640.65 864.75 640.21 865 640.34 865.32 640.04 865.64 639.32 865.86 638.46 865.98 637.68 866.06 636.87 866.12 636.04 866.18 634.93 866.22 633.98 866.26 632.77 866.3 631.24 866.32 630.32 866.34 629.26 866.36 628.03 866.38 626.62 866.4 624.97 866.42 623.03 866.44 620.76 866.46 618.06 866.48 614.85 866.5 611.01 866.52 606.42 866.54 600.91 866.56 594.35 866.58 586.63 866.6 577.76 866.62 568.01 866.64 558.06 866.66 549.11 866.68 542.75 866.7 540.43 866.72 542.76 866.74 549.13 866.75 553.4 866.76 558.09 866.78 568.05 866.8 577.81 866.82 586.69 866.84 594.42 866.86 600.99 866.88 606.5 866.9 611.11 866.92 614.95 866.94 618.16 866.96 620.86 866.98 623.14 867 625.07 867.02 626.74 867.04 628.17 867.06 629.41 867.08 630.49 867.1 631.44 867.14 633 867.18 634.23 867.22 635.21 867.26 636 867.32 636.85 867.4 637.65 867.54 638.56 867.7 639.24 867.94 639.79 868.3 640.19 868.5 640.53 868.8 640.61 869 640.51 869.25 640.82 869.5 640.67 870 640.7 870.25 640.87 870.5 640.73 870.75 640.94 871 640.74 871.5 640.88 872 640.72 872.25 640.97 872.5 640.88 872.75 641 873 640.77 873.25 640.8 873.5 640.98 873.75 640.91 874 641 874.5 640.78 874.75 640.95 875 640.89 875.25 641.07 875.5 640.71 875.75 641.02 876 640.88 876.25 640.94 876.5 640.78 876.75 640.92 877.25 641.04 877.5 640.77 877.75 641.09 878 640.73 878.5 640.7 878.75 641 879.25 640.88 879.5 640.78 879.75 641.01 880 640.77 880.25 641.02 880.5 640.82 881.25 640.91 881.5 640.82 881.75 641.09 882 640.79 882.25 640.96 882.75 640.98 883 640.83 883.75 641 884 640.7 884.25 640.92 884.5 640.84 884.75 640.93 885 640.78 886 640.71 886.25 641.12 886.5 640.96 886.75 641.02 887 640.82 887.25 640.86 887.5 641.02 887.75 640.72 888 640.88 888.25 640.72 888.5 640.96 888.75 640.8 889 640.76 889.25 640.93 889.5 640.85 890 640.93 890.25 640.86 890.5 641.1 890.75 640.82 891.25 641.03 891.5 640.82 891.75 641.1 892 641.02 892.25 640.77 892.75 640.96 893 640.74 893.25 640.93 894.25 640.84 894.5 641 895.25 640.77 895.5 640.87 896 640.8 896.25 641 896.5 640.92 896.75 640.66 897 640.92 897.25 640.81 897.5 641.03 897.75 640.57 898 640.97 898.25 640.82 898.5 640.84 898.75 641.06 899.25 640.77 899.5 640.96 899.75 640.79 900 640.93 900.5 640.65 900.75 641.01 901 640.86 901.5 641 902 640.87 902.5 640.85 902.75 641.13 903 640.95 903.25 641.12 903.5 640.86 903.75 640.8 904.25 640.95 904.75 640.81 905.25 640.96 905.5 640.94 905.75 640.76 906 640.9 907 640.84 907.5 640.93 908.25 640.83 908.5 641.05 908.75 640.73 909 641.01 909.25 640.89 909.5 641.02 910.25 640.84 910.75 640.81 911 640.93 911.25 640.73 911.5 641.07 911.75 640.87 912.25 640.95 912.5 640.9 912.75 640.99 913 640.86 913.25 640.94 913.5 640.82 914.25 640.89 914.5 640.99 914.75 640.82 915 640.81 915.5 641.01 915.75 640.97 916 640.79 916.25 641.07 916.5 640.86 916.75 640.93 917 640.82 917.25 641.05 917.5 640.85 917.75 641.01 918.25 640.72 918.5 640.92 918.75 640.7 919 640.89 919.5 640.65 920 640.84 920.25 641.15 920.75 640.86 921.25 641 921.5 640.85 921.75 641.05 922 641.02 922.5 640.68 922.75 640.98 923.25 640.84 923.5 640.97 923.75 640.99 924 640.86 924.25 641.01 924.5 640.98 924.75 640.7 925 641.1 925.25 640.69 925.5 640.75 925.75 640.96 926 640.78 926.5 641 927 640.98 927.25 640.73 927.5 641.03 927.75 641.04 928 640.94" fill="none" stroke="#363636" stroke-width="0.72" stroke-linejoin="round"/>
<g stroke="#111" fill="none">
<path d="M67.6 672.0H929.1" stroke-width="1.3"/>
<path d="M922.40 672.0v3.2M916.26 672.0v3.2M910.12 672.0v3.2M903.97 672.0v3.2M897.83 672.0v3.2M891.68 672.0v3.2M885.53 672.0v3.2M879.39 672.0v3.2M873.25 672.0v3.2M860.96 672.0v3.2M854.81 672.0v3.2M848.67 672.0v3.2M842.52 672.0v3.2M836.38 672.0v3.2M830.23 672.0v3.2M824.09 672.0v3.2M817.94 672.0v3.2M811.80 672.0v3.2M799.50 672.0v3.2M793.36 672.0v3.2M787.22 672.0v3.2M781.07 672.0v3.2M774.92 672.0v3.2M768.78 672.0v3.2M762.63 672.0v3.2M756.49 672.0v3.2M750.35 672.0v3.2M738.06 672.0v3.2M731.91 672.0v3.2M725.76 672.0v3.2M719.62 672.0v3.2M713.48 672.0v3.2M707.33 672.0v3.2M701.18 672.0v3.2M695.04 672.0v3.2M688.89 672.0v3.2M676.61 672.0v3.2M670.46 672.0v3.2M664.32 672.0v3.2M658.17 672.0v3.2M652.02 672.0v3.2M645.88 672.0v3.2M639.74 672.0v3.2M633.59 672.0v3.2M627.45 672.0v3.2M615.15 672.0v3.2M609.01 672.0v3.2M602.87 672.0v3.2M596.72 672.0v3.2M590.58 672.0v3.2M584.43 672.0v3.2M578.29 672.0v3.2M572.14 672.0v3.2M566.00 672.0v3.2M553.71 672.0v3.2M547.56 672.0v3.2M541.41 672.0v3.2M535.27 672.0v3.2M529.12 672.0v3.2M522.98 672.0v3.2M516.84 672.0v3.2M510.69 672.0v3.2M504.54 672.0v3.2M492.26 672.0v3.2M486.11 672.0v3.2M479.97 672.0v3.2M473.82 672.0v3.2M467.68 672.0v3.2M461.53 672.0v3.2M455.38 672.0v3.2M449.24 672.0v3.2M443.09 672.0v3.2M430.81 672.0v3.2M424.66 672.0v3.2M418.51 672.0v3.2M412.37 672.0v3.2M406.23 672.0v3.2M400.08 672.0v3.2M393.94 672.0v3.2M387.79 672.0v3.2M381.64 672.0v3.2M369.36 672.0v3.2M363.21 672.0v3.2M357.06 672.0v3.2M350.92 672.0v3.2M344.77 672.0v3.2M338.63 672.0v3.2M332.49 672.0v3.2M326.34 672.0v3.2M320.19 672.0v3.2M307.90 672.0v3.2M301.76 672.0v3.2M295.62 672.0v3.2M289.47 672.0v3.2M283.33 672.0v3.2M277.18 672.0v3.2M271.04 672.0v3.2M264.89 672.0v3.2M258.75 672.0v3.2M246.46 672.0v3.2M240.31 672.0v3.2M234.16 672.0v3.2M228.02 672.0v3.2M221.88 672.0v3.2M215.73 672.0v3.2M209.59 672.0v3.2M203.44 672.0v3.2M197.29 672.0v3.2M185.00 672.0v3.2M178.86 672.0v3.2M172.71 672.0v3.2M166.57 672.0v3.2M160.42 672.0v3.2M154.28 672.0v3.2M148.13 672.0v3.2M141.99 672.0v3.2M135.84 672.0v3.2M123.56 672.0v3.2M117.41 672.0v3.2M111.26 672.0v3.2M105.12 672.0v3.2M98.98 672.0v3.2M92.83 672.0v3.2M86.69 672.0v3.2M80.54 672.0v3.2M74.39 672.0v3.2" stroke-width="0.9"/>
<path d="M928.55 672.0v8.4M867.10 672.0v8.4M805.65 672.0v8.4M744.20 672.0v8.4M682.75 672.0v8.4M621.30 672.0v8.4M559.85 672.0v8.4M498.40 672.0v8.4M436.95 672.0v8.4M375.50 672.0v8.4M314.05 672.0v8.4M252.60 672.0v8.4M191.15 672.0v8.4M129.70 672.0v8.4M68.25 672.0v8.4" stroke-width="1.3"/>
</g>
<g class="ax">
<text x="866.8" y="698.6">0</text>
<text x="805.4" y="698.6">1</text>
<text x="743.9" y="698.6">2</text>
<text x="682.5" y="698.6">3</text>
<text x="621.0" y="698.6">4</text>
<text x="559.6" y="698.6">5</text>
<text x="498.1" y="698.6">6</text>
<text x="436.6" y="698.6">7</text>
<text x="375.2" y="698.6">8</text>
<text x="313.7" y="698.6">9</text>
<text x="252.3" y="698.6">10</text>
<text x="190.8" y="698.6">11</text>
<text x="129.4" y="698.6">12</text>
<text x="927.6" y="698.6" style="text-anchor:end">ppm</text>
</g>
<g fill="none" stroke="#c8171e" stroke-width="0.9" stroke-linejoin="round">
<path d="M414.7 708.7V716L403.4 726.6V760.8"/><path d="M419.8 708.7V716L420.3 726.6V760.8"/>
<path d="M421.2 708.7V716L420.6 726.6V760.8"/><path d="M426.9 708.7V716L437.4 726.6V760.8"/>
<path d="M520.3 708.7V716L524.9 726.6V760.8"/><path d="M546.4 708.7V716L541.7 726.6V760.8"/>
<path d="M647.4 708.7V716L642.4 726.6V760.8"/><path d="M654.8 708.7V716L659.5 726.6V760.8"/>
<path d="M690.3 708.7V716L685.2 726.6V760.8"/><path d="M697.6 708.7V716L702.4 726.6V760.8"/>
<path d="M744.4 708.7V716L739.7 726.6V760.8"/><path d="M751.4 708.7V716L756.5 726.6V760.8"/>
</g>
<g class="int">
<text transform="translate(416.6 760.3) rotate(-90)">2.000</text>
<text transform="translate(433.8 760.3) rotate(-90)">3.005</text>
<text transform="translate(537.4 760.3) rotate(-90)">0.980</text>
<text transform="translate(654.8 760.3) rotate(-90)">2.037</text>
<text transform="translate(698.1 760.3) rotate(-90)">2.076</text>
<text transform="translate(752.2 760.3) rotate(-90)">3.067</text>
</g>
<g class="par">
<text x="962.8" y="179.85" xml:space="preserve">Current Data Parameters</text>
<text x="962.8" y="189.26" xml:space="preserve">NAME     877-95-2P2827884</text>
<text x="962.8" y="198.67" xml:space="preserve">EXPNO                 1</text>
<text x="962.8" y="208.08" xml:space="preserve">PROCNO                1</text>
<text x="962.8" y="226.90" xml:space="preserve">F2 - Acquisition Parameters</text>
<text x="962.8" y="236.31" xml:space="preserve">Date_          20231107</text>
<text x="962.8" y="245.72" xml:space="preserve">Time              17.00 h</text>
<text x="962.8" y="255.13" xml:space="preserve">INSTRUM  Avance neo 400</text>
<text x="962.8" y="264.54" xml:space="preserve">PROBHD   Z163739_0670 (</text>
<text x="962.8" y="273.95" xml:space="preserve">PULPROG            zg30</text>
<text x="962.8" y="283.36" xml:space="preserve">TD                65536</text>
<text x="962.8" y="292.77" xml:space="preserve">SOLVENT           CDCl3</text>
<text x="962.8" y="302.18" xml:space="preserve">NS                    4</text>
<text x="962.8" y="311.59" xml:space="preserve">DS                    2</text>
<text x="962.8" y="321.00" xml:space="preserve">SWH            8196.722 Hz</text>
<text x="962.8" y="330.41" xml:space="preserve">FIDRES         0.250144 Hz</text>
<text x="962.8" y="339.82" xml:space="preserve">AQ            3.9976959 sec</text>
<text x="962.8" y="349.23" xml:space="preserve">RG                  101</text>
<text x="962.8" y="358.64" xml:space="preserve">DW               61.000 usec</text>
<text x="962.8" y="368.05" xml:space="preserve">DE                13.89 usec</text>
<text x="962.8" y="377.46" xml:space="preserve">TE                296.5 K</text>
<text x="962.8" y="386.87" xml:space="preserve">D1           1.00000000 sec</text>
<text x="962.8" y="396.28" xml:space="preserve">TD0                   1</text>
<text x="962.8" y="405.69" xml:space="preserve">SFO1        400.1324708 MHz</text>
<text x="962.8" y="415.10" xml:space="preserve">NUC1                 1H</text>
<text x="962.8" y="424.51" xml:space="preserve">P0                 2.67 usec</text>
<text x="962.8" y="433.92" xml:space="preserve">P1                 8.00 usec</text>
<text x="962.8" y="443.33" xml:space="preserve">PLW1        22.77899933 W</text>
<text x="962.8" y="462.15" xml:space="preserve">F2 - Processing parameters</text>
<text x="962.8" y="471.56" xml:space="preserve">SI                65536</text>
<text x="962.8" y="480.97" xml:space="preserve">SF          400.1300091 MHz</text>
<text x="962.8" y="490.38" xml:space="preserve">WDW                  EM</text>
<text x="962.8" y="499.79" xml:space="preserve">SSB                   0</text>
<text x="962.8" y="509.20" xml:space="preserve">LB                 0.30 Hz</text>
<text x="962.8" y="518.61" xml:space="preserve">GB                    0</text>
<text x="962.8" y="528.02" xml:space="preserve">PC                 1.00</text>
</g>
<g id="bruker">
<g fill="#3853b3" fill-rule="evenodd">
<g transform="translate(1038.2 106.7) rotate(33)"><path d="M-63 0a63 21.6 0 1 0 126 0a63 21.6 0 1 0 -126 0ZM-58.7 0a58.7 18.8 0 1 0 117.4 0a58.7 18.8 0 1 0 -117.4 0Z"/></g>
<g transform="translate(1038.2 106.7) rotate(-33)"><path d="M-63 0a63 21.6 0 1 0 126 0a63 21.6 0 1 0 -126 0ZM-58.7 0a58.7 18.8 0 1 0 117.4 0a58.7 18.8 0 1 0 -117.4 0Z"/></g>
</g>
<rect x="955" y="95.2" width="165" height="23.6" fill="#fff"/>
<circle cx="1012.3" cy="70.2" r="4.3" fill="#3853b3"/><circle cx="1012.3" cy="143.3" r="4.3" fill="#3853b3"/>
<text class="sans" x="958.4" y="115.3" font-size="22.6" font-weight="bold" fill="#111" stroke="#111" stroke-width="1.5" textLength="155" lengthAdjust="spacingAndGlyphs">BRUKER</text>
</g>
<g id="molbest"><title>MolBest</title>
<g fill="none" stroke="#6fb93c" stroke-linecap="round" stroke-linejoin="round">
<path d="M455.6 368.95L468.25 346.15H493.55L506.2 368.95L493.55 391.75H468.25Z" stroke-width="3.6"/>
<path d="M473.1 353H488.1M463.1 371.9L471.4 385.5M498.8 371.9L490.4 385.5" stroke-width="3.4"/>
</g>
<text class="sans" font-size="59.6" fill="#0c0c0c" stroke="#0c0c0c" stroke-width="1.2" y="394"><tspan x="509.20" font-size="59.6" textLength="37.48" lengthAdjust="spacingAndGlyphs">M</tspan><tspan x="545.35" font-size="52.3" textLength="23.70" lengthAdjust="spacingAndGlyphs">o</tspan><tspan x="569.10" font-size="59.6" textLength="8.34" lengthAdjust="spacingAndGlyphs">l</tspan><tspan x="578.00" font-size="59.6" textLength="22.82" lengthAdjust="spacingAndGlyphs">B</tspan><tspan x="602.40" font-size="52.3" textLength="22.33" lengthAdjust="spacingAndGlyphs">e</tspan><tspan x="624.95" font-size="52.3" textLength="20.53" lengthAdjust="spacingAndGlyphs">s</tspan><tspan x="647.70" font-size="59.6" textLength="14.22" lengthAdjust="spacingAndGlyphs">t</tspan></text>
<text class="sans" x="447.4" y="425.4" font-size="13.4" textLength="292.6" lengthAdjust="spacing" fill="#868686">molBest.com,180K+ Chemical Reagents In Stock.</text>
</g>
</svg></body></html>
